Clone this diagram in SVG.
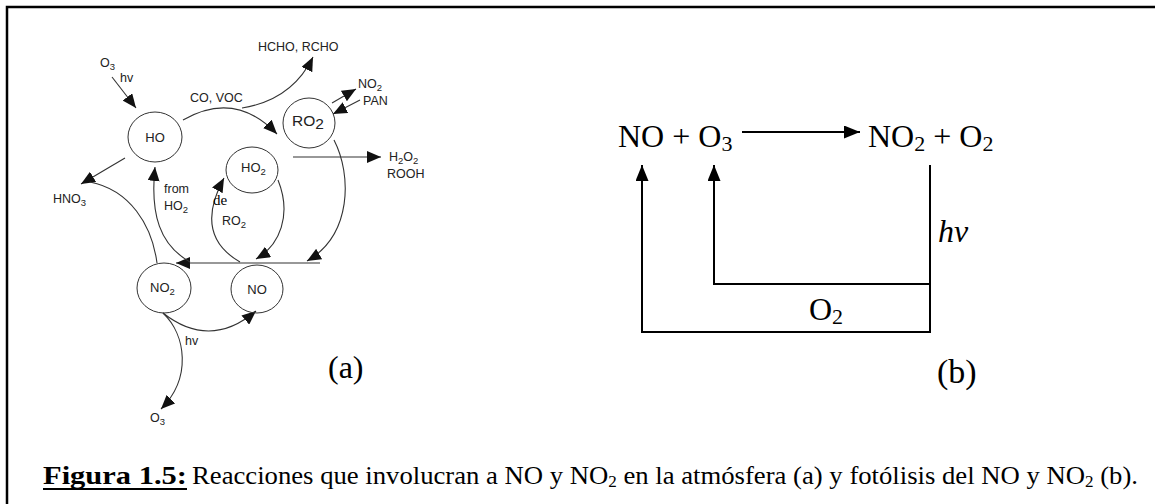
<svg xmlns="http://www.w3.org/2000/svg" width="1155" height="504" viewBox="0 0 1155 504">
<style>
.sans{font-family:"Liberation Sans",Arial,sans-serif;fill:#222;}
.lbl{font-size:12.5px;}
.node{font-size:13px;}
.sub{font-size:9.5px;}
.serif{font-family:"Liberation Serif","Times New Roman",serif;fill:#000;}
.circ{fill:none;stroke:#333;stroke-width:1;}
.ln{fill:none;stroke:#333;stroke-width:1.1;}
.bl{fill:none;stroke:#000;stroke-width:2;}
</style>
<defs>
<marker id="ah" viewBox="0 0 14 12" refX="14" refY="6" markerWidth="14" markerHeight="12" markerUnits="userSpaceOnUse" orient="auto">
<path d="M0,0 L14,6 L0,12 Z" fill="#111"/>
</marker>
<marker id="ahb" viewBox="0 0 16 13" refX="16" refY="6.5" markerWidth="16" markerHeight="13" markerUnits="userSpaceOnUse" orient="auto">
<path d="M0,0 L16,6.5 L0,13 Z" fill="#000"/>
</marker>
</defs>
<rect width="1155" height="504" fill="#fff"/>
<g id="frame">
<path d="M7,504 L7,7 L1155,7" fill="none" stroke="#000" stroke-width="2.5"/>
</g>

<!-- part (a) -->
<g id="connectors-a">
<path class="ln" d="M112,77 L136,108" marker-end="url(#ah)"/>
<path class="ln" d="M183,120 Q235,90 277,134" marker-end="url(#ah)"/>
<path class="ln" d="M242,108 Q292,100 313,57" marker-end="url(#ah)"/>
<path class="ln" d="M332,103 L356,89" marker-end="url(#ah)"/>
<path class="ln" d="M360,100 L333,114" marker-end="url(#ah)"/>
<path class="ln" d="M293,157 L381,157" marker-end="url(#ah)"/>
<path class="ln" d="M334,140 C352,175 352,235 307,261" marker-end="url(#ah)"/>
<path class="ln" d="M320,263 L176,263" marker-end="url(#ah)"/>
<path class="ln" d="M190,262 C160,245 150,215 155,167" marker-end="url(#ah)"/>
<path class="ln" d="M125,158 L81,184" marker-end="url(#ah)"/>
<path class="ln" d="M157,263 C152,225 130,190 90,182"/>
<path class="ln" d="M278,180 C292,215 280,245 256,259" marker-end="url(#ah)"/>
<path class="ln" d="M240,262 Q193,235 224,178" marker-end="url(#ah)"/>
<path class="ln" d="M163,313 Q210,350 256,311" marker-end="url(#ah)"/>
<path class="ln" d="M163,313 C186,335 192,378 161,409" marker-end="url(#ah)"/>
</g>

<g id="node-HO">
<ellipse class="circ" cx="155" cy="137" rx="27" ry="25"/>
<text class="sans node" x="155" y="142" text-anchor="middle">HO</text>
</g>
<g id="node-RO2">
<ellipse class="circ" cx="309" cy="123" rx="26" ry="25"/>
<text class="sans" x="292" y="126" font-size="15.5">RO<tspan dy="3">2</tspan></text>
</g>
<g id="node-HO2">
<ellipse class="circ" cx="252" cy="170" rx="26" ry="23"/>
<text class="sans node" x="241" y="172">HO<tspan class="sub" dy="3">2</tspan></text>
</g>
<g id="node-NO2">
<ellipse class="circ" cx="164" cy="288" rx="27" ry="25"/>
<text class="sans node" x="150" y="292">NO<tspan class="sub" dy="3">2</tspan></text>
</g>
<g id="node-NO">
<ellipse class="circ" cx="257" cy="289" rx="26" ry="24"/>
<text class="sans node" x="257" y="293.5" text-anchor="middle">NO</text>
</g>

<g id="labels-a">
<text class="sans lbl" x="100" y="67">O<tspan class="sub" dy="3">3</tspan></text>
<text class="sans lbl" x="120" y="82">hv</text>
<text class="sans lbl" x="190" y="102">CO, VOC</text>
<text class="sans lbl" x="258" y="51">HCHO, RCHO</text>
<text class="sans lbl" x="358" y="88">NO<tspan class="sub" dy="3">2</tspan></text>
<text class="sans lbl" x="363" y="105">PAN</text>
<text class="sans lbl" x="389" y="161">H<tspan class="sub" dy="3">2</tspan><tspan dy="-3">O</tspan><tspan class="sub" dy="3">2</tspan></text>
<text class="sans lbl" x="387" y="178">ROOH</text>
<text class="sans lbl" x="53" y="203">HNO<tspan class="sub" dy="3">3</tspan></text>
<text class="sans lbl" x="164" y="193">from</text>
<text class="sans lbl" x="164" y="210">HO<tspan class="sub" dy="3">2</tspan></text>
<text class="serif" x="213" y="205" font-size="15">de</text>
<text class="sans lbl" x="222" y="225">RO<tspan class="sub" dy="3">2</tspan></text>
<text class="sans lbl" x="185" y="345">hv</text>
<text class="sans lbl" x="150" y="422">O<tspan class="sub" dy="3">3</tspan></text>
<text class="serif" x="328" y="378" font-size="32">(a)</text>
</g>

<!-- part (b) -->
<g id="node-reactants">
<text class="serif" x="618" y="147" font-size="32">NO + O<tspan font-size="22" dy="4">3</tspan></text>
</g>
<g id="node-products">
<text class="serif" x="868" y="147" font-size="32">NO<tspan font-size="22" dy="4">2</tspan><tspan dy="-4"> + O</tspan><tspan font-size="22" dy="4">2</tspan></text>
</g>
<g id="connectors-b">
<path class="bl" d="M742,132 L860,132" marker-end="url(#ahb)"/>
<path class="bl" d="M930,165 L930,332 L642,332 L642,165" marker-end="url(#ahb)"/>
<path class="bl" d="M930,284 L714,284 L714,165" marker-end="url(#ahb)"/>
</g>
<g id="labels-b">
<text class="serif" x="938" y="242" font-size="32" font-style="italic">hv</text>
<text class="serif" x="809" y="320" font-size="32">O<tspan font-size="22" dy="4">2</tspan></text>
<text class="serif" x="937" y="383" font-size="34">(b)</text>
</g>

<g id="caption">
<text class="serif" x="43" y="484" font-size="25" font-weight="bold" textLength="144" lengthAdjust="spacingAndGlyphs">Figura 1.5:</text>
<line x1="43" y1="489" x2="187" y2="489" stroke="#000" stroke-width="2"/>
<text class="serif" x="192" y="484" font-size="25" textLength="946" lengthAdjust="spacingAndGlyphs">Reacciones que involucran a NO y NO<tspan font-size="16" dy="3">2</tspan><tspan dy="-3"> en la atmósfera (a) y fotólisis del NO y NO</tspan><tspan font-size="16" dy="3">2</tspan><tspan dy="-3"> (b).</tspan></text>
</g>
</svg>
